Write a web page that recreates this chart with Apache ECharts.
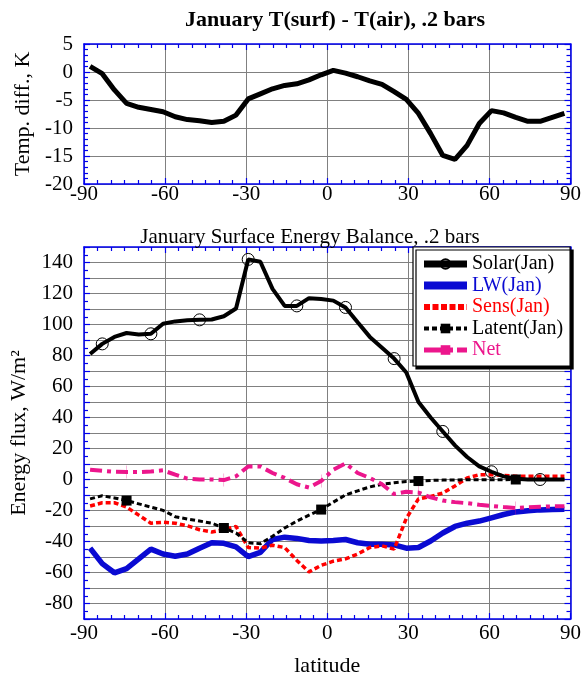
<!DOCTYPE html>
<html><head><meta charset="utf-8">
<script src="https://cdn.jsdelivr.net/npm/echarts@6/dist/echarts.min.js"></script>
<style>html,body{margin:0;padding:0;background:#fff}#c{width:584px;height:682px}</style>
</head><body><div id="c"></div>
<script>
const latitudes = [-87.75,-83.25,-78.75,-74.25,-69.75,-65.25,-60.75,-56.25,-51.75,-47.25,-42.75,-38.25,-33.75,-29.25,-24.75,-20.25,-15.75,-11.25,-6.75,-2.25,2.25,6.75,11.25,15.75,20.25,24.75,29.25,33.75,38.25,42.75,47.25,51.75,56.25,60.75,65.25,69.75,74.25,78.75,83.25,87.75];
const tempDiff = [1.0,-0.3,-3.2,-5.6,-6.3,-6.7,-7.1,-8.0,-8.5,-8.7,-9.0,-8.8,-7.7,-4.8,-3.9,-3.0,-2.4,-2.1,-1.4,-0.5,0.3,-0.2,-0.85,-1.6,-2.2,-3.5,-4.9,-7.4,-11.0,-14.9,-15.6,-13.1,-9.2,-6.9,-7.3,-8.1,-8.8,-8.8,-8.1,-7.4];
const solar = [81,87.5,92,94.5,93.5,94,100.5,102,102.8,103,103.2,105.3,110.3,142,140.5,123,112,112,117,116.4,115.4,111,101.4,92,85,78,69,50,40,31,22,14.5,8.5,5,2,0.5,0,0,0,0];
const lw = [-44.3,-54.3,-60.2,-57.5,-51.2,-44.9,-48.1,-49.5,-48.1,-44.3,-40.8,-41.2,-43.5,-49.7,-47,-38.7,-37.2,-38,-39.3,-39.7,-39.3,-38.7,-40.8,-41.8,-41.8,-42.2,-44.3,-43.9,-39.7,-34.5,-30.3,-28.2,-26.8,-24.7,-22.6,-20.9,-20.1,-19.6,-19.4,-19.2];
const sens = [-17.1,-15,-15,-17.8,-23,-28.2,-27.6,-28.2,-29.9,-32.4,-33.9,-32.4,-30.3,-43.9,-44.3,-42.4,-43.9,-52.2,-59.6,-55.4,-52.7,-51.2,-48.1,-43.9,-42.8,-44.9,-25.1,-12.5,-10.9,-8.8,-4.2,1,3.1,3.1,2.7,2.1,2.1,2.1,2.1,2.1];
const latent = [-12.5,-10.5,-11.9,-13.6,-15.7,-17.8,-19.9,-24,-25.5,-26.8,-28.2,-31.3,-34.5,-40.8,-41.4,-36.6,-31.3,-26.8,-23,-19.4,-14.6,-10,-7.3,-4.8,-3.1,-2.1,-1.3,-1,-0.6,-0.4,-0.3,-0.2,-0.2,-0.1,-0.1,0,0,0,0,0];
const net = [6.3,5.6,5,4.8,4.8,5.2,5.9,3.1,0.6,0,0,-0.4,2.1,8.4,8.4,4.2,1,-3.1,-5.2,-1,6.3,10.4,4.2,1,-3.1,-9.4,-7.9,-8.4,-11.5,-13.6,-14.6,-15.3,-16.3,-17.1,-17.8,-18.4,-18,-17.6,-17.3,-17.3];
const seriesNames = ['Solar(Jan)','LW(Jan)','Sens(Jan)','Latent(Jan)','Net'];
const solarMarkIdx = [1,5,9,13,17,21,25,29,33,37];
const latentMarkIdx = [3,11,19,27,35];
const netMarkIdx = [3,11,19,27,35];

const FONT = 'Liberation Serif';
const AX = '#0000ee';
const GRID = '#808080';
const BLUE = '#0a0ad2';
const RED = '#ff0000';
const MAG = '#ec168c';
const TICK_FS = 21;
const NAME_FS = 22;

function pairs(vals, marks) {
  return latitudes.map((lat, i) => {
    const item = {value: [lat, vals[i]]};
    if (marks && marks.indexOf(i) < 0) item.symbol = 'none';
    return item;
  });
}

function xAxisCfg(gi, pos, main, margin) {
  return {
    type: 'value', gridIndex: gi, position: pos, min: -90, max: 90, interval: 30,
    axisLine: {show: true, onZero: false, lineStyle: {color: AX, width: 1.5}},
    axisTick: {show: true, inside: true, length: 6, lineStyle: {color: AX, width: 1.2}},
    minorTick: {show: true, splitNumber: 6, length: 4, lineStyle: {color: AX, width: 1.2}},
    splitLine: {show: main, lineStyle: {color: GRID, width: 1}},
    axisLabel: {show: main, color: '#000', fontFamily: FONT, fontSize: TICK_FS, margin: margin},
  };
}
function yAxisCfg(gi, pos, main, min, max, interval, minorSplit, labelEvery) {
  return {
    type: 'value', gridIndex: gi, position: pos, min: min, max: max, interval: interval,
    axisLine: {show: true, onZero: false, lineStyle: {color: AX, width: 1.5}},
    axisTick: {show: true, inside: true, length: 6, lineStyle: {color: AX, width: 1.2}},
    minorTick: {show: true, splitNumber: minorSplit, length: 4, lineStyle: {color: AX, width: 1.2}},
    splitLine: {show: main, lineStyle: {color: GRID, width: 1}},
    axisLabel: {show: main, color: '#000', fontFamily: FONT, fontSize: TICK_FS, margin: 11,
      formatter: v => (v % labelEvery === 0 ? String(v) : '')},
  };
}

const chart = echarts.init(document.getElementById('c'), null, {renderer: 'canvas'});

const xAxes = [xAxisCfg(0, 'bottom', true, 0), xAxisCfg(0, 'top', false, 0), xAxisCfg(1, 'bottom', true, 4), xAxisCfg(1, 'top', false, 0)];
xAxes[2].name = 'latitude';
xAxes[2].nameLocation = 'middle';
xAxes[2].nameGap = 36;
xAxes[2].nameTextStyle = {color: '#000', fontFamily: FONT, fontSize: NAME_FS};

const yAxes = [
  yAxisCfg(0, 'left', true, -20, 5, 5, 5, 5),
  yAxisCfg(0, 'right', false, -20, 5, 5, 5, 5),
  yAxisCfg(1, 'left', true, -90, 150, 10, 2, 20),
  yAxisCfg(1, 'right', false, -90, 150, 10, 2, 20),
];
yAxes[0].name = 'Temp. diff., K';
yAxes[0].nameLocation = 'middle';
yAxes[0].nameGap = 45;
yAxes[0].nameTextStyle = {color: '#000', fontFamily: FONT, fontSize: NAME_FS};
yAxes[2].name = 'Energy flux, W/m²';
yAxes[2].nameLocation = 'middle';
yAxes[2].nameGap = 45;
yAxes[2].nameTextStyle = {color: '#000', fontFamily: FONT, fontSize: NAME_FS};

const lineBase = {type: 'line', smooth: false, animation: false, emphasis: {disabled: true}, silent: true};
const netSymbol = 'path://M0,0 L2,0 L2,13 L0,13 Z';

chart.setOption({
  animation: false,
  title: [
    {text: 'January T(surf) - T(air), .2 bars', left: 330, top: 4, textAlign: 'center',
     textStyle: {fontFamily: FONT, fontSize: 22, fontWeight: 'bold', color: '#000'}},
    {text: 'January Surface Energy Balance, .2 bars', left: 305, top: 222, textAlign: 'center',
     textStyle: {fontFamily: FONT, fontSize: 21, fontWeight: 'normal', color: '#000'}},
  ],
  grid: [
    {left: 84, right: 12, top: 44, height: 140, containLabel: false},
    {left: 84, right: 12, top: 247, height: 383, containLabel: false},
  ],
  xAxis: xAxes,
  yAxis: yAxes,
  legend: {
    orient: 'vertical', left: 413, top: 247,
    backgroundColor: '#fff', borderColor: '#000', borderWidth: 1.2,
    padding: [7, 7, 6, 7],
    shadowColor: '#000', shadowOffsetX: 3, shadowOffsetY: 3, shadowBlur: 0,
    itemWidth: 43, itemHeight: 12, itemGap: 1.5,
    selectedMode: false,
    textStyle: {fontFamily: FONT, fontSize: 20},
    data: [
      {name: seriesNames[0], textStyle: {color: '#000'}, lineStyle: {width: 7}},
      {name: seriesNames[1], textStyle: {color: BLUE}, lineStyle: {width: 8}, itemStyle: {opacity: 0}},
      {name: seriesNames[2], textStyle: {color: RED}, lineStyle: {width: 6, type: [6, 2.5]}, itemStyle: {opacity: 0}},
      {name: seriesNames[3], textStyle: {color: '#000'}, lineStyle: {width: 4, type: [5, 3]}},
      {name: seriesNames[4], textStyle: {color: MAG}, lineStyle: {width: 5, type: [20, 4, 5, 4]}},
    ],
  },
  series: [
    Object.assign({}, lineBase, {
      name: 'tdiff', xAxisIndex: 0, yAxisIndex: 0, symbol: 'none',
      lineStyle: {color: '#000', width: 5}, itemStyle: {color: '#000'},
      data: latitudes.map((lat, i) => [lat, tempDiff[i]]),
    }),
    Object.assign({}, lineBase, {
      name: seriesNames[1], xAxisIndex: 2, yAxisIndex: 2, symbol: 'none',
      lineStyle: {color: BLUE, width: 5.5}, itemStyle: {color: BLUE},
      data: pairs(lw, null),
    }),
    Object.assign({}, lineBase, {
      name: seriesNames[2], xAxisIndex: 2, yAxisIndex: 2, symbol: 'none',
      lineStyle: {color: RED, width: 3.5, type: [5, 3]}, itemStyle: {color: RED},
      data: pairs(sens, null),
    }),
    Object.assign({}, lineBase, {
      name: seriesNames[3], xAxisIndex: 2, yAxisIndex: 2, symbol: 'rect', symbolSize: 10, showAllSymbol: true,
      lineStyle: {color: '#000', width: 3, type: [5, 3]}, itemStyle: {color: '#000'},
      data: pairs(latent, latentMarkIdx),
    }),
    Object.assign({}, lineBase, {
      name: seriesNames[4], xAxisIndex: 2, yAxisIndex: 2, symbol: netSymbol, symbolKeepAspect: true,
      symbolSize: [2, 13], showAllSymbol: true,
      lineStyle: {color: MAG, width: 4, type: [12, 5, 4, 5]}, itemStyle: {color: MAG},
      data: pairs(net, netMarkIdx),
    }),
    Object.assign({}, lineBase, {
      name: seriesNames[0], xAxisIndex: 2, yAxisIndex: 2, symbol: 'circle', symbolSize: 12, showAllSymbol: true,
      lineStyle: {color: '#000', width: 4},
      itemStyle: {color: 'rgba(255,255,255,0)', borderColor: '#000', borderWidth: 1},
      data: pairs(solar, solarMarkIdx),
    }),
  ],
});
</script>
</body></html>
